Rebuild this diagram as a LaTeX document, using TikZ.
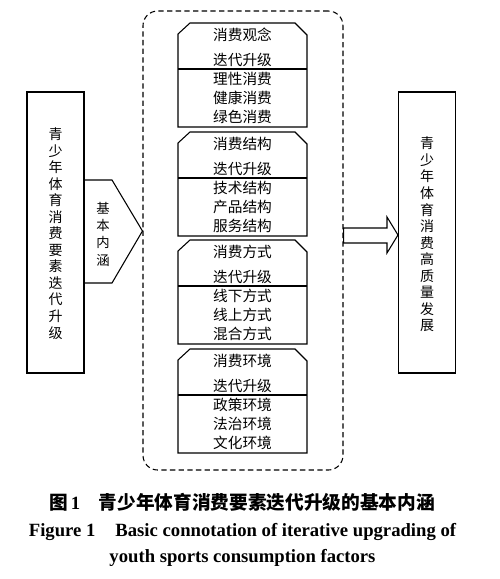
\documentclass[tikz,border=0pt]{standalone}
\usepackage{fontspec}
\setmainfont{Liberation Serif}
\newfontfamily\cjk{Noto Sans CJK SC}
\usetikzlibrary{positioning}

\begin{document}
\begin{tikzpicture}[
    x=0.75pt, y=-0.75pt,
    line width=0.8pt,
    tall box/.style={rectangle, draw, minimum width=42.75pt, minimum height=210.75pt, inner sep=0pt},
    column text/.style={font=\cjk\fontsize{10.5}{12.4}\selectfont, align=center},
    frame box/.style={rectangle, draw, dash pattern=on 4pt off 2.5pt, rounded corners=11pt, minimum width=150pt, minimum height=344.25pt},
    head text/.style={font=\cjk\fontsize{11}{18.75}\selectfont, align=center, inner sep=0pt},
    body text/.style={font=\cjk\fontsize{11}{14.25}\selectfont, align=center, inner sep=0pt},
    caption text/.style={font=\bfseries\fontsize{14}{16}\selectfont, inner sep=0pt}
]
  \useasboundingbox (0,0) rectangle (500,579);

  % left and right columns
  \node[tall box] (src) at (55.5,232.5) {};
  \node[column text] (srctext) at (55.5,233.5) {青\\少\\年\\体\\育\\消\\费\\要\\素\\迭\\代\\升\\级};
  \node[tall box] (dst) at (427,232.5) {};
  \node[column text] (dsttext) at (427,234.5) {青\\少\\年\\体\\育\\消\\费\\高\\质\\量\\发\\展};

  % dashed frame
  \node[frame box] (frame) at (243,240.5) {};

  % pentagon arrow
  \coordinate (tip) at (frame.west |- 0,231);
  \draw (src.east |- 0,180) -- (112,180) -- (tip) -- (112,283) -- (src.east |- 0,283);
  \node[font=\cjk\fontsize{10}{13}\selectfont, align=center] (core) at (103,234) {基\\本\\内\\涵};

  % block arrow
  \draw (frame.east |- 0,228) -- (387,228) -- (387,217) -- (dst.west |- 0,235)
        -- (387,253) -- (387,243) -- (frame.east |- 0,243) -- cycle;

  % four groups
  \foreach \t/\i/\ha/\hb/\ba/\bb/\bc in {
      23/1/消费观念/迭代升级/理性消费/健康消费/绿色消费,
      132/2/消费结构/迭代升级/技术结构/产品结构/服务结构,
      240/3/消费方式/迭代升级/线下方式/线上方式/混合方式,
      349/4/消费环境/迭代升级/政策环境/法治环境/文化环境}{
    \draw (178,\t+104) -- (178,\t+11) -- (190,\t) -- (295,\t) -- (307,\t+12) -- (307,\t+104) -- cycle;
    \draw (178,\t+46) -- (307,\t+46);
    \node[head text] (head\i) at (242.5,\t+24.5) {\ha\\\hb};
    \node[body text] (body\i) at (242.5,\t+75) {\ba\\\bb\\\bc};
  }

  % caption
  \node[caption text] (capcn) at (242,502) {{\cjk 图}\,1\quad{\cjk 青少年体育消费要素迭代升级的基本内涵}};
  \node[caption text] (capen) at (242.5,532) {Figure 1\hspace{15pt}Basic connotation of iterative upgrading of};
  \node[caption text] (capen2) at (242.5,558) {youth sports consumption factors};
\end{tikzpicture}
\end{document}
